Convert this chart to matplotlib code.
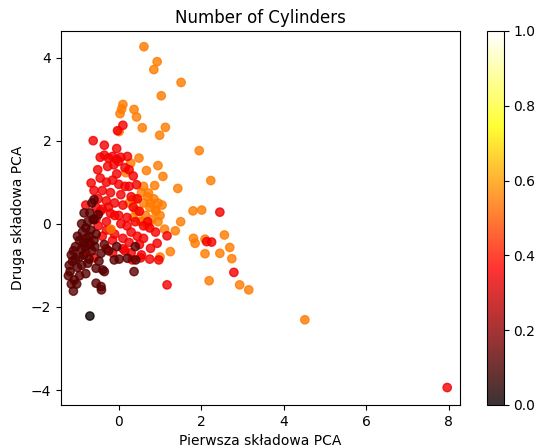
import numpy as np
import matplotlib
matplotlib.use('Agg')
import matplotlib.pyplot as plt

# 4 cylindry (ciemne)
pc1_4 = [-1.15, -1.10, -1.05, -1.12, -1.18, -1.08, -1.10, -1.00, -0.95, -0.90, -0.85, -0.95,
         -1.00, -0.88, -0.80, -0.75, -0.70, -0.60, -0.65, -0.78, -0.70, -0.85, -0.90, -0.80,
         -0.95, -1.02, -0.72, -0.65, -0.60, -0.55, -0.68, -0.62, -0.35, -0.43, -0.55, -0.39,
         -0.35, -0.55, -0.43, -0.42, -0.11, 0.01, 0.21, 0.41, 0.37, -0.25, -0.05, 0.40,
         -0.90, -0.72, -0.58, -0.82, -1.05, -1.20, -0.75, -0.48, -0.84, -0.60, -0.50, -1.22,
         -1.15]
pc2_4 = [-0.75, -0.65, -0.55, -0.90, -1.15, -1.35, -1.62, -1.05, -0.80, -0.60, -0.45, -0.40,
         -0.30, -0.20, -0.10, 0.05, 0.26, 0.58, 0.50, -0.35, -0.50, -0.75, -1.00, -1.20,
         -1.25, -1.45, -0.85, -0.65, -0.40, -0.25, -0.15, 0.10, -0.50, -0.71, -1.07, -1.11,
         -1.15, -1.43, -1.51, -1.59, -0.87, -0.85, -0.83, -0.87, -1.15, -0.65, -0.55, -0.55,
         0.00, -0.30, -0.55, -0.55, -0.85, -1.00, -0.95, -0.90, 0.26, 0.10, 0.22, -1.25,
         -1.45]

# 3 cylindry
pc1_3 = [-0.70]
pc2_3 = [-2.22]

# 6 cylindrow (czerwone)
pc1_6 = [-0.62, -0.35, -0.05, -0.03, 0.10, -0.45, -0.35, -0.25, -0.15, -0.05, 0.05, 0.21,
         -0.51, -0.27, -0.12, 0.00, 0.15, 0.25, -0.67, -0.30, -0.15, 0.00, 0.15, 0.43,
         -0.40, -0.20, 0.05, 0.30, -0.50, -0.30, -0.10, 0.10, 0.35, 0.50, -0.40, -0.20,
         0.00, 0.20, 0.40, 0.60, 0.75, 0.89, 1.17, 0.93, 0.77, 0.97, 0.60, 0.50,
         0.30, 0.10, -0.10, -0.30, -0.60, 0.53, 0.33, -0.55, -0.80, 0.70,
         -0.45, -0.40, -0.30, -0.20, -0.15, 0.10, 0.25, 0.45, 0.30, -0.10, 0.05, 0.20,
         -0.50, -0.55, -0.15, 0.15, -0.70, -0.80, -0.25, 0.25, -0.05, 0.35, -0.45, 0.55,
         0.75, -0.60, 0.45, -0.30,
         2.45, 2.13, 2.25, 2.79, 1.17, 7.96]
pc2_6 = [2.00, 1.89, 1.81, 2.24, 2.37, 1.60, 1.65, 1.58, 1.62, 1.55, 1.60, 1.62,
         1.30, 1.38, 1.42, 1.50, 1.35, 1.30, 0.98, 1.00, 1.05, 0.95, 0.90, 0.94,
         0.80, 0.75, 0.70, 0.65, 0.60, 0.55, 0.50, 0.45, 0.40, 0.30, 0.35, 0.25,
         0.20, 0.15, 0.05, -0.05, -0.10, -0.20, -0.29, -0.47, -0.59, -0.87, -0.35, -0.50,
         -0.70, -0.60, -0.25, -0.15, -0.82, -0.82, -0.87, 0.40, 0.45, 0.05,
         0.30, -0.30, 0.05, -0.15, -0.40, -0.35, -0.45, -0.30, -0.20, 0.20, 0.00, -0.05,
         -0.05, 0.12, -0.70, -0.65, -0.45, -0.70, 0.40, 0.90, 1.20, 1.15, 1.10, -0.75,
         -0.85, 0.80, 0.60, -0.60,
         0.28, -0.43, -0.44, -1.17, -1.47, -3.94]

# 8 cylindrow (pomaranczowe)
pc1_8 = [0.61, 0.93, 0.85, 1.51, 1.03, 0.10, 0.07, 0.03, 0.37, 0.43, 0.57, 1.13,
         0.99, 0.01, 1.95, 2.23, 0.49, 0.95, 0.67, 1.07, 1.43, 0.87, 1.80, 2.01,
         1.50, 0.29, 0.17, 1.37, 1.25, 1.00, 1.11, 1.81, 1.85, 2.09, 2.09, 2.56,
         2.45, 2.69, 2.74, 2.19, 2.93, 3.15, 4.51,
         0.55, 0.70, 0.85, 0.95, 0.60, 0.75, 0.90, 1.00, 0.45, 0.65, 0.80, 0.95,
         0.35, 0.55, 0.70, 0.25, 0.40, 1.05, 0.60, 0.72, 0.77, 0.89, 0.33, 0.41, 0.53]
pc2_8 = [4.26, 3.90, 3.71, 3.40, 3.08, 2.87, 2.76, 2.65, 2.75, 2.57, 2.31, 2.32,
         2.13, 2.22, 1.76, 1.04, 1.58, 1.40, 1.28, 1.14, 0.85, 0.92, 0.31, 0.33,
         0.05, 1.46, 1.23, -0.17, -0.67, -0.80, -0.13, -0.35, -0.47, -0.37, -0.72, -0.27,
         -0.71, -0.57, -0.84, -1.37, -1.47, -1.59, -2.31,
         0.75, 0.65, 0.60, 0.50, 0.50, 0.40, 0.30, 0.20, 0.30, 0.20, 0.10, 0.05,
         0.15, 0.05, -0.05, 0.50, 0.60, 0.45, 0.90, 0.74, 0.50, 0.33, 0.58, 0.33, 0.06]
# pojedynczy punkt 8 cyl. w srodku skupiska
pc1_8b = [-0.19]
pc2_8b = [-0.13]

# wartosci koloru dla grup
c_3, c_4, c_6, c_8 = 0.0, 0.12, 0.35, 0.55

pc1 = np.array(pc1_8 + pc1_6 + pc1_4 + pc1_8b + pc1_3)
pc2 = np.array(pc2_8 + pc2_6 + pc2_4 + pc2_8b + pc2_3)
cyl = np.array([c_8] * len(pc1_8) + [c_6] * len(pc1_6) + [c_4] * len(pc1_4)
               + [c_8] * len(pc1_8b) + [c_3] * len(pc1_3))

fig = plt.figure(figsize=(5.38, 4.48), dpi=100)
ax = fig.add_axes([0.1134, 0.096, 0.7416, 0.835])
cax = fig.add_axes([0.905, 0.096, 0.031, 0.835])

sc = ax.scatter(pc1, pc2, c=cyl, cmap='hot', alpha=0.8, vmin=0, vmax=1)
ax.set_xlim(-1.4, 8.27)
ax.set_ylim(-4.36, 4.64)
ax.set_xticks([0, 2, 4, 6, 8])
ax.set_yticks([-4, -2, 0, 2, 4])
ax.set_title('Number of Cylinders')
ax.set_xlabel('Pierwsza składowa PCA')
ax.set_ylabel('Druga składowa PCA')
fig.colorbar(sc, cax=cax)

plt.savefig('out.png', dpi=100)
